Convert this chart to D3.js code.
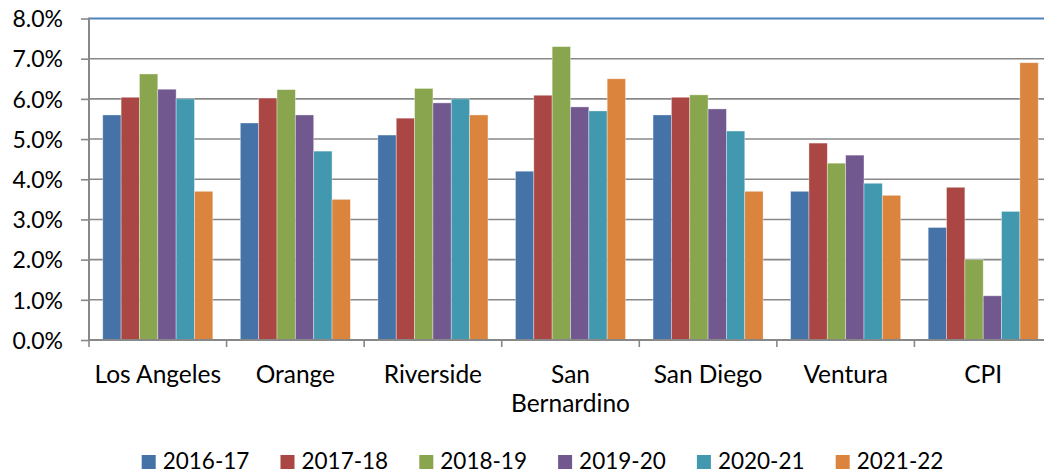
<!DOCTYPE html>
<html>
<head>
<meta charset="utf-8">
<script src="https://cdn.jsdelivr.net/npm/d3@7"></script>
<style>
  body { margin: 0; background: #fff; }
  svg text { font-family: Lato, "Open Sans", sans-serif; fill: #000; }
</style>
</head>
<body>
<svg width="1044" height="474"></svg>
<script>
var categories = ["Los Angeles", "Orange", "Riverside", "San Bernardino", "San Diego", "Ventura", "CPI"];
var seriesNames = ["2016-17", "2017-18", "2018-19", "2019-20", "2020-21", "2021-22"];
var colors = ["#4572a7", "#aa4643", "#89a54e", "#71588f", "#4198af", "#db843d"];

// values in percent, one array per series, in category order
var s2016 = [5.6, 5.4, 5.1, 4.2, 5.6, 3.7, 2.8];
var s2017 = [6.04, 6.02, 5.52, 6.09, 6.04, 4.9, 3.8];
var s2018 = [6.62, 6.23, 6.26, 7.3, 6.1, 4.4, 2.0];
var s2019 = [6.24, 5.6, 5.9, 5.8, 5.75, 4.6, 1.1];
var s2020 = [6.0, 4.7, 6.0, 5.7, 5.2, 3.9, 3.2];
var s2021 = [3.7, 3.5, 5.6, 6.5, 3.7, 3.6, 6.9];
var yTicks = [0, 1, 2, 3, 4, 5, 6, 7, 8];

var seriesValues = [s2016, s2017, s2018, s2019, s2020, s2021];

var svg = d3.select("svg");
var plotLeft = 89, plotRight = 1052, plotTop = 18.5, plotBottom = 340;

var x0 = d3.scaleBand().domain(categories).range([plotLeft, plotRight]).padding(0);
var x1 = d3.scaleBand().domain(seriesNames).range([0, x0.bandwidth()])
    .paddingInner(0).paddingOuter(0.75);
var y = d3.scaleLinear().domain([0, 8]).range([plotBottom, plotTop]);

// gridlines
svg.append("g")
  .selectAll("line")
  .data(yTicks)
  .enter().append("line")
    .attr("x1", plotLeft)
    .attr("x2", plotRight)
    .attr("y1", function(d) { return y(d); })
    .attr("y2", function(d) { return y(d); })
    .attr("stroke", function(d) { return d === 8 ? "#4f81bd" : "#888"; })
    .attr("stroke-width", function(d) { return d === 8 ? 2 : 1.6; });

// bars
var groups = svg.append("g")
  .selectAll("g")
  .data(seriesNames)
  .enter().append("g")
    .attr("fill", function(d, i) { return colors[i]; });

groups.selectAll("rect")
  .data(function(d, i) {
    return categories.map(function(c, j) {
      return { cat: c, series: d, value: seriesValues[i][j] };
    });
  })
  .enter().append("rect")
    .attr("x", function(d) { return x0(d.cat) + x1(d.series); })
    .attr("width", x1.bandwidth())
    .attr("y", function(d) { return y(d.value); })
    .attr("height", function(d) { return plotBottom - y(d.value); })
    .attr("stroke", "rgba(255,255,255,0.45)")
    .attr("stroke-width", 0.8);

// y axis
var yAxis = d3.axisLeft(y)
    .tickValues(yTicks)
    .tickSize(8)
    .tickPadding(18)
    .tickFormat(function(d) { return d.toFixed(1) + "%"; });

var gy = svg.append("g")
    .attr("transform", "translate(" + plotLeft + ",0)")
    .call(yAxis);
gy.select(".domain").remove();
gy.selectAll(".tick line").attr("stroke", "#888").attr("stroke-width", 1.6);
gy.selectAll(".tick text")
    .style("font-size", "23px")
    .attr("dy", "0.36em");
gy.append("line")
    .attr("x1", 0).attr("x2", 0)
    .attr("y1", plotTop - 1).attr("y2", plotBottom + 1)
    .attr("stroke", "#888").attr("stroke-width", 2);

// x axis
var gx = svg.append("g")
    .attr("transform", "translate(0," + plotBottom + ")");
gx.append("line")
    .attr("x1", plotLeft).attr("x2", plotRight)
    .attr("stroke", "#888").attr("stroke-width", 2);
gx.selectAll(".cattick")
  .data(d3.range(categories.length + 1))
  .enter().append("line")
    .attr("class", "cattick")
    .attr("x1", function(d) { return plotLeft + d * x0.step(); })
    .attr("x2", function(d) { return plotLeft + d * x0.step(); })
    .attr("y1", 0).attr("y2", 7)
    .attr("stroke", "#888").attr("stroke-width", 1.6);

var labels = gx.selectAll(".catlabel")
  .data(categories)
  .enter().append("text")
    .attr("class", "catlabel")
    .attr("text-anchor", "middle")
    .style("font-size", "24.5px")
    .attr("x", function(d) { return x0(d) + x0.bandwidth() / 2; })
    .attr("y", 43);

labels.each(function(d) {
  var words = d === "San Bernardino" ? ["San", "Bernardino"] : [d];
  var t = d3.select(this);
  words.forEach(function(w, i) {
    t.append("tspan")
      .attr("x", t.attr("x"))
      .attr("dy", i === 0 ? 0 : 28.5)
      .text(w);
  });
});

// legend
var legend = svg.append("g")
  .selectAll("g")
  .data(seriesNames)
  .enter().append("g")
    .attr("transform", function(d, i) {
      return "translate(" + (141.7 + i * 138.8) + ",455)";
    });
legend.append("rect")
    .attr("width", 14)
    .attr("height", 14)
    .attr("fill", function(d, i) { return colors[i]; });
legend.append("text")
    .attr("x", 21)
    .attr("y", 14)
    .style("font-size", "22.5px")
    .text(function(d) { return d; });
</script>
</body>
</html>
